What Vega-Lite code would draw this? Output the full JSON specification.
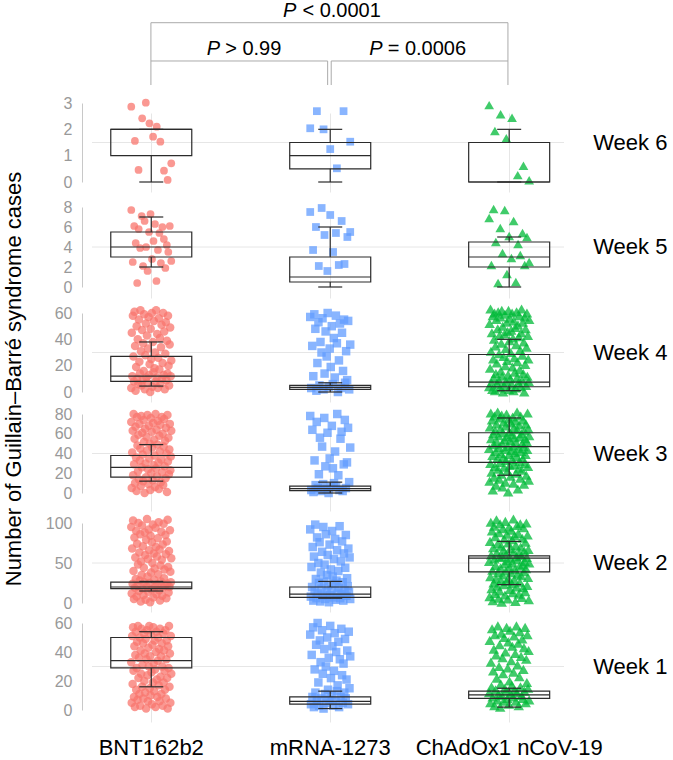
{
  "$schema": "https://vega.github.io/schema/vega-lite/v6.json",
  "padding": {"left": 3, "top": 0, "right": 0, "bottom": 0},
  "background": "white",
  "title": {"text": "Number of Guillain–Barré syndrome cases", "orient": "left", "anchor": "middle", "fontSize": 22, "offset": 19},
  "spacing": 0,
  "bounds": "flush",
  "resolve": {"scale": {"x": "independent", "y": "independent"}},
  "datasets": {
    "boxes": [
      {"week": "Week 6", "vaccine": "BNT162b2", "lower": 0, "q1": 1, "median": 2, "q3": 2, "upper": 2},
      {"week": "Week 6", "vaccine": "mRNA-1273", "lower": 0, "q1": 0.5, "median": 1, "q3": 1.5, "upper": 2},
      {"week": "Week 6", "vaccine": "ChAdOx1 nCoV-19", "lower": 0, "q1": 0, "median": 0, "q3": 1.5, "upper": 2},
      {"week": "Week 5", "vaccine": "BNT162b2", "lower": 2, "q1": 3, "median": 4, "q3": 5.5, "upper": 7},
      {"week": "Week 5", "vaccine": "mRNA-1273", "lower": 0, "q1": 0.5, "median": 1, "q3": 3, "upper": 6},
      {"week": "Week 5", "vaccine": "ChAdOx1 nCoV-19", "lower": 0, "q1": 2, "median": 3, "q3": 4.5, "upper": 5},
      {"week": "Week 4", "vaccine": "BNT162b2", "lower": 4.5, "q1": 8, "median": 12, "q3": 27, "upper": 38},
      {"week": "Week 4", "vaccine": "mRNA-1273", "lower": 0, "q1": 2, "median": 3.5, "q3": 5, "upper": 7},
      {"week": "Week 4", "vaccine": "ChAdOx1 nCoV-19", "lower": 1, "q1": 4, "median": 7.5, "q3": 28.5, "upper": 40},
      {"week": "Week 3", "vaccine": "BNT162b2", "lower": 12, "q1": 16, "median": 26, "q3": 38, "upper": 49},
      {"week": "Week 3", "vaccine": "mRNA-1273", "lower": 0, "q1": 2.5, "median": 4.5, "q3": 7, "upper": 11},
      {"week": "Week 3", "vaccine": "ChAdOx1 nCoV-19", "lower": 18, "q1": 31, "median": 47, "q3": 61, "upper": 76},
      {"week": "Week 2", "vaccine": "BNT162b2", "lower": 15, "q1": 18, "median": 20, "q3": 26, "upper": 27},
      {"week": "Week 2", "vaccine": "mRNA-1273", "lower": 6, "q1": 7, "median": 11, "q3": 20, "upper": 27},
      {"week": "Week 2", "vaccine": "ChAdOx1 nCoV-19", "lower": 23, "q1": 39, "median": 56, "q3": 59, "upper": 77},
      {"week": "Week 1", "vaccine": "BNT162b2", "lower": 16, "q1": 29, "median": 34, "q3": 50, "upper": 54},
      {"week": "Week 1", "vaccine": "mRNA-1273", "lower": 1, "q1": 4, "median": 6, "q3": 9, "upper": 13},
      {"week": "Week 1", "vaccine": "ChAdOx1 nCoV-19", "lower": 2, "q1": 8, "median": 10.5, "q3": 13, "upper": 15}
    ],
    "w6_bnt": [{"cases": 2.86}, {"cases": 1.56}, {"cases": 0.46}, {"cases": 2.42}, {"cases": 3.01}, {"cases": 2.23}, {"cases": 1.72}, {"cases": 2.1}, {"cases": 1.53}, {"cases": 0.43}, {"cases": 0.08}, {"cases": 0.71}],
    "w6_mrna": [{"cases": 2.04}, {"cases": 2.69}, {"cases": 2.0}, {"cases": 1.25}, {"cases": 0.52}, {"cases": 2.69}, {"cases": 1.53}],
    "w6_chad": [{"cases": 2.92}, {"cases": 1.94}, {"cases": 2.57}, {"cases": 1.66}, {"cases": 2.44}, {"cases": 0.26}, {"cases": 0.62}, {"cases": 0.07}],
    "w5_bnt": [{"cases": 7.7}, {"cases": 2.5}, {"cases": 6.1}, {"cases": 4.4}, {"cases": 0.4}, {"cases": 5.8}, {"cases": 3.9}, {"cases": 7.1}, {"cases": 2.1}, {"cases": 6.6}, {"cases": 4.0}, {"cases": 1.6}, {"cases": 5.5}, {"cases": 7.3}, {"cases": 2.8}, {"cases": 4.6}, {"cases": 6.3}, {"cases": 0.6}, {"cases": 3.7}, {"cases": 5.4}, {"cases": 2.4}, {"cases": 6.0}, {"cases": 4.8}, {"cases": 1.9}, {"cases": 4.2}, {"cases": 3.5}, {"cases": 6.1}, {"cases": 2.6}],
    "w5_mrna": [{"cases": 7.5}, {"cases": 3.7}, {"cases": 6.0}, {"cases": 2.1}, {"cases": 7.9}, {"cases": 5.2}, {"cases": 1.6}, {"cases": 7.2}, {"cases": 3.5}, {"cases": 5.4}, {"cases": 2.2}, {"cases": 6.6}, {"cases": 2.3}, {"cases": 5.0}, {"cases": 5.5}],
    "w5_chad": [{"cases": 6.9}, {"cases": 2.2}, {"cases": 7.8}, {"cases": 4.5}, {"cases": 0.4}, {"cases": 5.9}, {"cases": 3.4}, {"cases": 7.7}, {"cases": 1.3}, {"cases": 5.1}, {"cases": 2.9}, {"cases": 6.6}, {"cases": 0.5}, {"cases": 4.3}, {"cases": 3.2}, {"cases": 5.4}, {"cases": 2.2}, {"cases": 5.0}, {"cases": 2.5}],
    "w4_bnt": [{"cases": 3}, {"cases": 45}, {"cases": 12}, {"cases": 58}, {"cases": 27}, {"cases": 8}, {"cases": 61}, {"cases": 35}, {"cases": 1}, {"cases": 19}, {"cases": 50}, {"cases": 10}, {"cases": 40}, {"cases": 6}, {"cases": 55}, {"cases": 23}, {"cases": 14}, {"cases": 62}, {"cases": 31}, {"cases": 5}, {"cases": 47}, {"cases": 9}, {"cases": 37}, {"cases": 16}, {"cases": 59}, {"cases": 2}, {"cases": 28}, {"cases": 52}, {"cases": 11}, {"cases": 43}, {"cases": 7}, {"cases": 33}, {"cases": 57}, {"cases": 13}, {"cases": 21}, {"cases": 0}, {"cases": 48}, {"cases": 25}, {"cases": 60}, {"cases": 4}, {"cases": 38}, {"cases": 15}, {"cases": 54}, {"cases": 18}, {"cases": 30}, {"cases": 8}, {"cases": 62}, {"cases": 11}, {"cases": 44}, {"cases": 3}, {"cases": 26}, {"cases": 56}, {"cases": 17}, {"cases": 41}, {"cases": 6}, {"cases": 34}, {"cases": 51}, {"cases": 10}, {"cases": 22}, {"cases": 60}, {"cases": 13}, {"cases": 46}, {"cases": 2}, {"cases": 29}, {"cases": 53}, {"cases": 9}, {"cases": 39}, {"cases": 14}, {"cases": 58}, {"cases": 20}, {"cases": 5}, {"cases": 36}, {"cases": 49}, {"cases": 12}, {"cases": 24}],
    "w4_mrna": [{"cases": 57}, {"cases": 3}, {"cases": 35}, {"cases": 12}, {"cases": 59}, {"cases": 48}, {"cases": 1}, {"cases": 22}, {"cases": 53}, {"cases": 5}, {"cases": 38}, {"cases": 30}, {"cases": 56}, {"cases": 2}, {"cases": 14}, {"cases": 46}, {"cases": 27}, {"cases": 60}, {"cases": 4}, {"cases": 33}, {"cases": 19}, {"cases": 50}, {"cases": 6}, {"cases": 41}, {"cases": 11}, {"cases": 58}, {"cases": 37}, {"cases": 0}, {"cases": 24}, {"cases": 52}, {"cases": 3}, {"cases": 45}, {"cases": 16}, {"cases": 55}, {"cases": 7}, {"cases": 31}, {"cases": 9}, {"cases": 54}, {"cases": 2}, {"cases": 36}],
    "w4_chad": [{"cases": 4}, {"cases": 52}, {"cases": 18}, {"cases": 63}, {"cases": 31}, {"cases": 7}, {"cases": 45}, {"cases": 2}, {"cases": 58}, {"cases": 25}, {"cases": 11}, {"cases": 40}, {"cases": 60}, {"cases": 1}, {"cases": 35}, {"cases": 14}, {"cases": 55}, {"cases": 22}, {"cases": 6}, {"cases": 48}, {"cases": 61}, {"cases": 9}, {"cases": 29}, {"cases": 43}, {"cases": 3}, {"cases": 57}, {"cases": 16}, {"cases": 37}, {"cases": 62}, {"cases": 12}, {"cases": 50}, {"cases": 0}, {"cases": 27}, {"cases": 5}, {"cases": 44}, {"cases": 59}, {"cases": 20}, {"cases": 33}, {"cases": 8}, {"cases": 53}, {"cases": 24}, {"cases": 46}, {"cases": 13}, {"cases": 62}, {"cases": 2}, {"cases": 39}, {"cases": 56}, {"cases": 10}, {"cases": 30}, {"cases": 47}, {"cases": 6}, {"cases": 60}, {"cases": 19}, {"cases": 41}, {"cases": 1}, {"cases": 54}, {"cases": 26}, {"cases": 15}, {"cases": 49}, {"cases": 3}, {"cases": 36}, {"cases": 61}, {"cases": 11}, {"cases": 23}, {"cases": 51}, {"cases": 7}, {"cases": 42}, {"cases": 58}, {"cases": 17}, {"cases": 32}, {"cases": 4}, {"cases": 45}, {"cases": 63}, {"cases": 9}, {"cases": 28}, {"cases": 53}, {"cases": 14}, {"cases": 38}, {"cases": 0}, {"cases": 57}, {"cases": 21}, {"cases": 48}, {"cases": 5}, {"cases": 34}, {"cases": 60}, {"cases": 12}, {"cases": 43}, {"cases": 25}, {"cases": 8}, {"cases": 55}],
    "w3_bnt": [{"cases": 72}, {"cases": 5}, {"cases": 41}, {"cases": 63}, {"cases": 18}, {"cases": 80}, {"cases": 29}, {"cases": 55}, {"cases": 10}, {"cases": 67}, {"cases": 36}, {"cases": 2}, {"cases": 77}, {"cases": 48}, {"cases": 22}, {"cases": 59}, {"cases": 14}, {"cases": 70}, {"cases": 33}, {"cases": 45}, {"cases": 7}, {"cases": 78}, {"cases": 26}, {"cases": 61}, {"cases": 39}, {"cases": 12}, {"cases": 74}, {"cases": 52}, {"cases": 0}, {"cases": 65}, {"cases": 30}, {"cases": 16}, {"cases": 57}, {"cases": 43}, {"cases": 79}, {"cases": 24}, {"cases": 9}, {"cases": 68}, {"cases": 35}, {"cases": 50}, {"cases": 3}, {"cases": 76}, {"cases": 20}, {"cases": 62}, {"cases": 46}, {"cases": 13}, {"cases": 71}, {"cases": 28}, {"cases": 54}, {"cases": 38}, {"cases": 6}, {"cases": 80}, {"cases": 25}, {"cases": 64}, {"cases": 17}, {"cases": 49}, {"cases": 73}, {"cases": 31}, {"cases": 4}, {"cases": 58}, {"cases": 42}, {"cases": 69}, {"cases": 11}, {"cases": 34}, {"cases": 77}, {"cases": 21}, {"cases": 60}, {"cases": 8}, {"cases": 47}, {"cases": 75}, {"cases": 27}, {"cases": 53}, {"cases": 15}, {"cases": 66}, {"cases": 40}, {"cases": 1}, {"cases": 79}, {"cases": 32}, {"cases": 56}, {"cases": 19}, {"cases": 44}, {"cases": 70}, {"cases": 23}, {"cases": 37}, {"cases": 63}],
    "w3_mrna": [{"cases": 78}, {"cases": 3}, {"cases": 64}, {"cases": 1}, {"cases": 33}, {"cases": 8}, {"cases": 72}, {"cases": 5}, {"cases": 19}, {"cases": 56}, {"cases": 2}, {"cases": 47}, {"cases": 9}, {"cases": 76}, {"cases": 27}, {"cases": 4}, {"cases": 61}, {"cases": 0}, {"cases": 35}, {"cases": 6}, {"cases": 68}, {"cases": 25}, {"cases": 10}, {"cases": 42}, {"cases": 7}, {"cases": 80}, {"cases": 18}, {"cases": 3}, {"cases": 55}, {"cases": 62}, {"cases": 2}, {"cases": 29}, {"cases": 74}, {"cases": 5}, {"cases": 31}, {"cases": 66}, {"cases": 11}, {"cases": 46}],
    "w3_chad": [{"cases": 45}, {"cases": 12}, {"cases": 67}, {"cases": 30}, {"cases": 81}, {"cases": 55}, {"cases": 21}, {"cases": 74}, {"cases": 38}, {"cases": 3}, {"cases": 60}, {"cases": 49}, {"cases": 16}, {"cases": 78}, {"cases": 27}, {"cases": 63}, {"cases": 42}, {"cases": 8}, {"cases": 70}, {"cases": 52}, {"cases": 35}, {"cases": 82}, {"cases": 24}, {"cases": 58}, {"cases": 46}, {"cases": 14}, {"cases": 76}, {"cases": 31}, {"cases": 65}, {"cases": 40}, {"cases": 19}, {"cases": 79}, {"cases": 50}, {"cases": 6}, {"cases": 61}, {"cases": 36}, {"cases": 72}, {"cases": 26}, {"cases": 54}, {"cases": 44}, {"cases": 11}, {"cases": 68}, {"cases": 33}, {"cases": 80}, {"cases": 57}, {"cases": 22}, {"cases": 47}, {"cases": 1}, {"cases": 75}, {"cases": 39}, {"cases": 62}, {"cases": 28}, {"cases": 53}, {"cases": 17}, {"cases": 71}, {"cases": 43}, {"cases": 59}, {"cases": 34}, {"cases": 77}, {"cases": 48}, {"cases": 10}, {"cases": 66}, {"cases": 29}, {"cases": 56}, {"cases": 41}, {"cases": 73}, {"cases": 20}, {"cases": 51}, {"cases": 37}, {"cases": 82}, {"cases": 64}, {"cases": 4}, {"cases": 45}, {"cases": 25}, {"cases": 69}, {"cases": 32}, {"cases": 57}, {"cases": 15}, {"cases": 78}, {"cases": 42}, {"cases": 60}, {"cases": 23}, {"cases": 50}, {"cases": 35}, {"cases": 74}, {"cases": 47}, {"cases": 9}, {"cases": 63}, {"cases": 30}, {"cases": 55}, {"cases": 39}, {"cases": 70}, {"cases": 18}, {"cases": 52}, {"cases": 44}, {"cases": 81}, {"cases": 27}, {"cases": 65}, {"cases": 13}, {"cases": 58}],
    "w2_bnt": [{"cases": 95}, {"cases": 12}, {"cases": 68}, {"cases": 24}, {"cases": 103}, {"cases": 40}, {"cases": 5}, {"cases": 82}, {"cases": 19}, {"cases": 57}, {"cases": 30}, {"cases": 90}, {"cases": 8}, {"cases": 74}, {"cases": 22}, {"cases": 48}, {"cases": 100}, {"cases": 15}, {"cases": 63}, {"cases": 28}, {"cases": 86}, {"cases": 2}, {"cases": 52}, {"cases": 35}, {"cases": 97}, {"cases": 18}, {"cases": 71}, {"cases": 10}, {"cases": 44}, {"cases": 26}, {"cases": 88}, {"cases": 60}, {"cases": 4}, {"cases": 79}, {"cases": 21}, {"cases": 105}, {"cases": 33}, {"cases": 55}, {"cases": 14}, {"cases": 92}, {"cases": 66}, {"cases": 25}, {"cases": 1}, {"cases": 84}, {"cases": 38}, {"cases": 17}, {"cases": 76}, {"cases": 50}, {"cases": 98}, {"cases": 7}, {"cases": 62}, {"cases": 29}, {"cases": 43}, {"cases": 20}, {"cases": 94}, {"cases": 70}, {"cases": 11}, {"cases": 58}, {"cases": 23}, {"cases": 81}, {"cases": 36}, {"cases": 101}, {"cases": 16}, {"cases": 67}, {"cases": 3}, {"cases": 47}, {"cases": 27}, {"cases": 89}, {"cases": 54}, {"cases": 9}, {"cases": 73}, {"cases": 19}, {"cases": 99}, {"cases": 31}, {"cases": 42}, {"cases": 22}, {"cases": 85}, {"cases": 61}, {"cases": 6}, {"cases": 77}, {"cases": 24}, {"cases": 104}, {"cases": 45}, {"cases": 13}, {"cases": 65}, {"cases": 20}, {"cases": 91}, {"cases": 39}, {"cases": 26}, {"cases": 56}],
    "w2_mrna": [{"cases": 92}, {"cases": 8}, {"cases": 45}, {"cases": 20}, {"cases": 70}, {"cases": 3}, {"cases": 58}, {"cases": 15}, {"cases": 98}, {"cases": 30}, {"cases": 6}, {"cases": 82}, {"cases": 12}, {"cases": 50}, {"cases": 25}, {"cases": 76}, {"cases": 2}, {"cases": 38}, {"cases": 18}, {"cases": 64}, {"cases": 9}, {"cases": 95}, {"cases": 27}, {"cases": 48}, {"cases": 5}, {"cases": 86}, {"cases": 14}, {"cases": 35}, {"cases": 60}, {"cases": 22}, {"cases": 1}, {"cases": 73}, {"cases": 10}, {"cases": 42}, {"cases": 17}, {"cases": 90}, {"cases": 33}, {"cases": 7}, {"cases": 55}, {"cases": 24}, {"cases": 80}, {"cases": 4}, {"cases": 28}, {"cases": 66}, {"cases": 13}, {"cases": 40}, {"cases": 19}, {"cases": 96}, {"cases": 6}, {"cases": 52}, {"cases": 11}, {"cases": 77}, {"cases": 26}, {"cases": 3}, {"cases": 62}, {"cases": 16}, {"cases": 44}, {"cases": 85}, {"cases": 9}, {"cases": 31}, {"cases": 21}, {"cases": 68}, {"cases": 14}, {"cases": 57}, {"cases": 5}],
    "w2_chad": [{"cases": 52}, {"cases": 8}, {"cases": 77}, {"cases": 33}, {"cases": 101}, {"cases": 60}, {"cases": 18}, {"cases": 90}, {"cases": 41}, {"cases": 3}, {"cases": 69}, {"cases": 25}, {"cases": 96}, {"cases": 55}, {"cases": 12}, {"cases": 83}, {"cases": 47}, {"cases": 30}, {"cases": 104}, {"cases": 63}, {"cases": 21}, {"cases": 74}, {"cases": 38}, {"cases": 6}, {"cases": 88}, {"cases": 57}, {"cases": 15}, {"cases": 99}, {"cases": 44}, {"cases": 28}, {"cases": 71}, {"cases": 1}, {"cases": 58}, {"cases": 35}, {"cases": 93}, {"cases": 66}, {"cases": 23}, {"cases": 80}, {"cases": 49}, {"cases": 10}, {"cases": 102}, {"cases": 40}, {"cases": 61}, {"cases": 27}, {"cases": 86}, {"cases": 53}, {"cases": 5}, {"cases": 75}, {"cases": 31}, {"cases": 95}, {"cases": 45}, {"cases": 17}, {"cases": 68}, {"cases": 56}, {"cases": 38}, {"cases": 91}, {"cases": 24}, {"cases": 79}, {"cases": 50}, {"cases": 13}, {"cases": 105}, {"cases": 64}, {"cases": 29}, {"cases": 84}, {"cases": 42}, {"cases": 2}, {"cases": 72}, {"cases": 58}, {"cases": 20}, {"cases": 97}, {"cases": 36}, {"cases": 54}, {"cases": 87}, {"cases": 11}, {"cases": 62}, {"cases": 46}, {"cases": 26}, {"cases": 99}, {"cases": 70}, {"cases": 34}, {"cases": 59}, {"cases": 7}, {"cases": 81}, {"cases": 48}, {"cases": 19}, {"cases": 94}, {"cases": 39}, {"cases": 65}, {"cases": 52}, {"cases": 14}, {"cases": 76}, {"cases": 43}, {"cases": 100}, {"cases": 57}, {"cases": 22}, {"cases": 85}, {"cases": 32}, {"cases": 67}, {"cases": 4}, {"cases": 50}],
    "w1_bnt": [{"cases": 33}, {"cases": 5}, {"cases": 51}, {"cases": 18}, {"cases": 57}, {"cases": 27}, {"cases": 9}, {"cases": 44}, {"cases": 2}, {"cases": 38}, {"cases": 54}, {"cases": 14}, {"cases": 29}, {"cases": 47}, {"cases": 7}, {"cases": 58}, {"cases": 22}, {"cases": 36}, {"cases": 11}, {"cases": 50}, {"cases": 3}, {"cases": 41}, {"cases": 25}, {"cases": 56}, {"cases": 16}, {"cases": 31}, {"cases": 46}, {"cases": 8}, {"cases": 53}, {"cases": 20}, {"cases": 39}, {"cases": 12}, {"cases": 49}, {"cases": 1}, {"cases": 35}, {"cases": 55}, {"cases": 24}, {"cases": 6}, {"cases": 43}, {"cases": 30}, {"cases": 58}, {"cases": 15}, {"cases": 37}, {"cases": 10}, {"cases": 52}, {"cases": 26}, {"cases": 4}, {"cases": 45}, {"cases": 19}, {"cases": 57}, {"cases": 32}, {"cases": 13}, {"cases": 48}, {"cases": 28}, {"cases": 2}, {"cases": 40}, {"cases": 54}, {"cases": 21}, {"cases": 9}, {"cases": 34}, {"cases": 50}, {"cases": 17}, {"cases": 42}, {"cases": 6}, {"cases": 56}, {"cases": 23}, {"cases": 37}, {"cases": 11}, {"cases": 46}, {"cases": 30}, {"cases": 3}, {"cases": 53}, {"cases": 19}, {"cases": 41}, {"cases": 27}, {"cases": 14}, {"cases": 55}, {"cases": 8}, {"cases": 35}, {"cases": 48}, {"cases": 22}, {"cases": 1}, {"cases": 44}, {"cases": 29}, {"cases": 58}, {"cases": 16}, {"cases": 39}, {"cases": 5}, {"cases": 51}, {"cases": 25}],
    "w1_mrna": [{"cases": 52}, {"cases": 4}, {"cases": 38}, {"cases": 9}, {"cases": 57}, {"cases": 2}, {"cases": 28}, {"cases": 12}, {"cases": 45}, {"cases": 6}, {"cases": 60}, {"cases": 19}, {"cases": 3}, {"cases": 48}, {"cases": 33}, {"cases": 8}, {"cases": 55}, {"cases": 25}, {"cases": 1}, {"cases": 42}, {"cases": 11}, {"cases": 30}, {"cases": 5}, {"cases": 50}, {"cases": 14}, {"cases": 36}, {"cases": 7}, {"cases": 58}, {"cases": 22}, {"cases": 10}, {"cases": 44}, {"cases": 3}, {"cases": 27}, {"cases": 53}, {"cases": 6}, {"cases": 40}, {"cases": 13}, {"cases": 17}, {"cases": 47}, {"cases": 2}, {"cases": 35}, {"cases": 9}, {"cases": 56}, {"cases": 24}, {"cases": 5}, {"cases": 32}, {"cases": 12}, {"cases": 49}, {"cases": 8}, {"cases": 21}, {"cases": 41}, {"cases": 4}, {"cases": 54}, {"cases": 15}, {"cases": 37}],
    "w1_chad": [{"cases": 12}, {"cases": 48}, {"cases": 5}, {"cases": 33}, {"cases": 16}, {"cases": 56}, {"cases": 9}, {"cases": 27}, {"cases": 42}, {"cases": 3}, {"cases": 52}, {"cases": 14}, {"cases": 38}, {"cases": 22}, {"cases": 7}, {"cases": 58}, {"cases": 11}, {"cases": 30}, {"cases": 45}, {"cases": 2}, {"cases": 18}, {"cases": 53}, {"cases": 10}, {"cases": 36}, {"cases": 25}, {"cases": 6}, {"cases": 50}, {"cases": 15}, {"cases": 40}, {"cases": 13}, {"cases": 57}, {"cases": 8}, {"cases": 29}, {"cases": 47}, {"cases": 4}, {"cases": 20}, {"cases": 55}, {"cases": 11}, {"cases": 34}, {"cases": 17}, {"cases": 44}, {"cases": 9}, {"cases": 26}, {"cases": 51}, {"cases": 14}, {"cases": 39}, {"cases": 6}, {"cases": 58}, {"cases": 12}, {"cases": 31}, {"cases": 46}, {"cases": 3}, {"cases": 23}, {"cases": 54}, {"cases": 16}, {"cases": 37}, {"cases": 10}, {"cases": 49}, {"cases": 8}, {"cases": 28}, {"cases": 43}, {"cases": 13}, {"cases": 57}, {"cases": 5}, {"cases": 35}, {"cases": 19}, {"cases": 52}, {"cases": 15}, {"cases": 41}, {"cases": 7}]
  },
  "vconcat": [
    {
      "width": 472,
      "height": 95,
      "data": {"values": [{}]},
      "layer": [
        {"mark": {"type": "rule", "color": "#aaaaaa", "strokeWidth": 1}, "encoding": {"x": {"datum": 0, "type": "quantitative", "scale": {"domain": [-0.33, 2.314], "nice": false, "zero": false}, "axis": null}, "x2": {"datum": 2}, "y": {"datum": 0.761, "type": "quantitative", "scale": {"domain": [0, 1], "nice": false, "zero": false}, "axis": null}}},
        {"mark": {"type": "rule", "color": "#aaaaaa", "strokeWidth": 1}, "encoding": {"x": {"datum": 0, "type": "quantitative", "scale": {"domain": [-0.33, 2.314], "nice": false, "zero": false}, "axis": null}, "y": {"datum": 0.761, "type": "quantitative", "scale": {"domain": [0, 1], "nice": false, "zero": false}, "axis": null}, "y2": {"datum": 0.105}}},
        {"mark": {"type": "rule", "color": "#aaaaaa", "strokeWidth": 1}, "encoding": {"x": {"datum": 2, "type": "quantitative", "scale": {"domain": [-0.33, 2.314], "nice": false, "zero": false}, "axis": null}, "y": {"datum": 0.761, "type": "quantitative", "scale": {"domain": [0, 1], "nice": false, "zero": false}, "axis": null}, "y2": {"datum": 0.105}}},
        {"mark": {"type": "rule", "color": "#aaaaaa", "strokeWidth": 1}, "encoding": {"x": {"datum": 0, "type": "quantitative", "scale": {"domain": [-0.33, 2.314], "nice": false, "zero": false}, "axis": null}, "x2": {"datum": 0.99}, "y": {"datum": 0.358, "type": "quantitative", "scale": {"domain": [0, 1], "nice": false, "zero": false}, "axis": null}}},
        {"mark": {"type": "rule", "color": "#aaaaaa", "strokeWidth": 1}, "encoding": {"x": {"datum": 1.01, "type": "quantitative", "scale": {"domain": [-0.33, 2.314], "nice": false, "zero": false}, "axis": null}, "x2": {"datum": 2}, "y": {"datum": 0.358, "type": "quantitative", "scale": {"domain": [0, 1], "nice": false, "zero": false}, "axis": null}}},
        {"mark": {"type": "rule", "color": "#aaaaaa", "strokeWidth": 1}, "encoding": {"x": {"datum": 0.99, "type": "quantitative", "scale": {"domain": [-0.33, 2.314], "nice": false, "zero": false}, "axis": null}, "y": {"datum": 0.358, "type": "quantitative", "scale": {"domain": [0, 1], "nice": false, "zero": false}, "axis": null}, "y2": {"datum": 0.105}}},
        {"mark": {"type": "rule", "color": "#aaaaaa", "strokeWidth": 1}, "encoding": {"x": {"datum": 1.01, "type": "quantitative", "scale": {"domain": [-0.33, 2.314], "nice": false, "zero": false}, "axis": null}, "y": {"datum": 0.358, "type": "quantitative", "scale": {"domain": [0, 1], "nice": false, "zero": false}, "axis": null}, "y2": {"datum": 0.105}}},
        {"mark": {"type": "text", "text": "P", "fontStyle": "italic", "fontSize": 20, "align": "right", "baseline": "alphabetic", "dx": -33, "color": "#000"}, "encoding": {"x": {"datum": 1, "type": "quantitative", "scale": {"domain": [-0.33, 2.314], "nice": false, "zero": false}, "axis": null}, "y": {"datum": 0.821, "type": "quantitative", "scale": {"domain": [0, 1], "nice": false, "zero": false}, "axis": null}}},
        {"mark": {"type": "text", "text": "< 0.0001", "fontSize": 20, "align": "left", "baseline": "alphabetic", "dx": -27, "color": "#000"}, "encoding": {"x": {"datum": 1, "type": "quantitative", "scale": {"domain": [-0.33, 2.314], "nice": false, "zero": false}, "axis": null}, "y": {"datum": 0.821, "type": "quantitative", "scale": {"domain": [0, 1], "nice": false, "zero": false}, "axis": null}}},
        {"mark": {"type": "text", "text": "P", "fontStyle": "italic", "fontSize": 20, "align": "right", "baseline": "alphabetic", "dx": -20, "color": "#000"}, "encoding": {"x": {"datum": 0.5, "type": "quantitative", "scale": {"domain": [-0.33, 2.314], "nice": false, "zero": false}, "axis": null}, "y": {"datum": 0.421, "type": "quantitative", "scale": {"domain": [0, 1], "nice": false, "zero": false}, "axis": null}}},
        {"mark": {"type": "text", "text": "> 0.99", "fontSize": 20, "align": "left", "baseline": "alphabetic", "dx": -15, "color": "#000"}, "encoding": {"x": {"datum": 0.5, "type": "quantitative", "scale": {"domain": [-0.33, 2.314], "nice": false, "zero": false}, "axis": null}, "y": {"datum": 0.421, "type": "quantitative", "scale": {"domain": [0, 1], "nice": false, "zero": false}, "axis": null}}},
        {"mark": {"type": "text", "text": "P", "fontStyle": "italic", "fontSize": 20, "align": "right", "baseline": "alphabetic", "dx": -36, "color": "#000"}, "encoding": {"x": {"datum": 1.5, "type": "quantitative", "scale": {"domain": [-0.33, 2.314], "nice": false, "zero": false}, "axis": null}, "y": {"datum": 0.421, "type": "quantitative", "scale": {"domain": [0, 1], "nice": false, "zero": false}, "axis": null}}},
        {"mark": {"type": "text", "text": "= 0.0006", "fontSize": 20, "align": "left", "baseline": "alphabetic", "dx": -31, "color": "#000"}, "encoding": {"x": {"datum": 1.5, "type": "quantitative", "scale": {"domain": [-0.33, 2.314], "nice": false, "zero": false}, "axis": null}, "y": {"datum": 0.421, "type": "quantitative", "scale": {"domain": [0, 1], "nice": false, "zero": false}, "axis": null}}}
      ]
    },
    {
      "width": 472,
      "height": 105,
      "resolve": {"scale": {"xOffset": "independent"}},
      "layer": [
        {"data": {"values": [{}]}, "mark": {"type": "rule", "color": "#e6e6e6", "strokeWidth": 1}, "encoding": {"y": {"datum": 1.5, "type": "quantitative", "title": null}}},
        {"data": {"name": "w6_bnt"}, "transform": [{"window": [{"op": "row_number", "as": "id"}]}], "mark": {"type": "point", "shape": "circle", "filled": true, "size": 60, "opacity": 0.75, "color": "#F8766D", "strokeWidth": 0}, "encoding": {"x": {"datum": "BNT162b2", "type": "nominal", "scale": {"domain": ["BNT162b2", "mRNA-1273", "ChAdOx1 nCoV-19"], "paddingInner": 0.7765, "paddingOuter": 0.207, "align": 0.53}, "axis": {"labels": false, "title": null, "grid": true}}, "xOffset": {"field": "id", "type": "nominal", "scale": {"paddingInner": 0, "paddingOuter": 0}}, "y": {"field": "cases", "type": "quantitative", "title": null, "scale": {"domain": [0, 3], "range": [87, 8], "nice": false, "zero": false}, "axis": {"values": [0, 1, 2, 3], "tickCount": 12, "format": "d", "title": null, "labelOverlap": false}}}},
        {"data": {"name": "w6_mrna"}, "transform": [{"window": [{"op": "row_number", "as": "id"}]}], "mark": {"type": "point", "shape": "square", "filled": true, "size": 60, "opacity": 0.75, "color": "#619CFF", "strokeWidth": 0}, "encoding": {"x": {"datum": "mRNA-1273", "type": "nominal", "scale": {"domain": ["BNT162b2", "mRNA-1273", "ChAdOx1 nCoV-19"], "paddingInner": 0.7765, "paddingOuter": 0.207, "align": 0.53}, "axis": {"labels": false, "title": null, "grid": true}}, "xOffset": {"field": "id", "type": "nominal", "scale": {"paddingInner": 0, "paddingOuter": 0}}, "y": {"field": "cases", "type": "quantitative", "title": null}}},
        {"data": {"name": "w6_chad"}, "transform": [{"window": [{"op": "row_number", "as": "id"}]}], "mark": {"type": "point", "shape": "triangle-up", "filled": true, "size": 95, "opacity": 0.75, "color": "#00BA38", "strokeWidth": 0}, "encoding": {"x": {"datum": "ChAdOx1 nCoV-19", "type": "nominal", "scale": {"domain": ["BNT162b2", "mRNA-1273", "ChAdOx1 nCoV-19"], "paddingInner": 0.7765, "paddingOuter": 0.207, "align": 0.53}, "axis": {"labels": false, "title": null, "grid": true}}, "xOffset": {"field": "id", "type": "nominal", "scale": {"paddingInner": 0, "paddingOuter": 0}}, "y": {"field": "cases", "type": "quantitative", "title": null}}},
        {
          "data": {"name": "boxes"},
          "transform": [{"filter": {"field": "week", "equal": "Week 6"}}],
          "encoding": {"x": {"field": "vaccine", "type": "nominal", "scale": {"domain": ["BNT162b2", "mRNA-1273", "ChAdOx1 nCoV-19"], "paddingInner": 0.7765, "paddingOuter": 0.207, "align": 0.53}, "axis": {"labels": false, "title": null, "grid": true}}},
          "layer": [
            {"mark": {"type": "bar", "width": 81, "fill": "transparent", "stroke": "#2b2b2b", "strokeWidth": 1.2}, "encoding": {"y": {"field": "q1", "type": "quantitative", "title": null}, "y2": {"field": "q3"}}},
            {"mark": {"type": "rule", "color": "#2b2b2b", "strokeWidth": 1.2}, "encoding": {"y": {"field": "lower", "type": "quantitative", "title": null}, "y2": {"field": "q1"}}},
            {"mark": {"type": "rule", "color": "#2b2b2b", "strokeWidth": 1.2}, "encoding": {"y": {"field": "q3", "type": "quantitative", "title": null}, "y2": {"field": "upper"}}},
            {"mark": {"type": "tick", "orient": "horizontal", "size": 24, "thickness": 1.2, "color": "#2b2b2b", "opacity": 1}, "encoding": {"y": {"field": "lower", "type": "quantitative", "title": null}}},
            {"mark": {"type": "tick", "orient": "horizontal", "size": 24, "thickness": 1.2, "color": "#2b2b2b", "opacity": 1}, "encoding": {"y": {"field": "upper", "type": "quantitative", "title": null}}},
            {"mark": {"type": "tick", "orient": "horizontal", "size": 81, "thickness": 1.2, "color": "#2b2b2b", "opacity": 1}, "encoding": {"y": {"field": "median", "type": "quantitative", "title": null}}}
          ]
        },
        {"data": {"values": [{}]}, "mark": {"type": "text", "text": "Week 6", "align": "left", "baseline": "middle", "dx": 84, "fontSize": 22, "color": "#000"}, "encoding": {"x": {"datum": "ChAdOx1 nCoV-19", "type": "nominal", "scale": {"domain": ["BNT162b2", "mRNA-1273", "ChAdOx1 nCoV-19"], "paddingInner": 0.7765, "paddingOuter": 0.207, "align": 0.53}, "axis": {"labels": false, "title": null, "grid": true}}, "y": {"datum": 1.5, "type": "quantitative", "title": null}}}
      ]
    },
    {
      "width": 472,
      "height": 105,
      "resolve": {"scale": {"xOffset": "independent"}},
      "layer": [
        {"data": {"values": [{}]}, "mark": {"type": "rule", "color": "#e6e6e6", "strokeWidth": 1}, "encoding": {"y": {"datum": 4, "type": "quantitative", "title": null}}},
        {"data": {"name": "w5_bnt"}, "transform": [{"window": [{"op": "row_number", "as": "id"}]}], "mark": {"type": "point", "shape": "circle", "filled": true, "size": 60, "opacity": 0.75, "color": "#F8766D", "strokeWidth": 0}, "encoding": {"x": {"datum": "BNT162b2", "type": "nominal", "scale": {"domain": ["BNT162b2", "mRNA-1273", "ChAdOx1 nCoV-19"], "paddingInner": 0.7765, "paddingOuter": 0.207, "align": 0.53}, "axis": {"labels": false, "title": null, "grid": true}}, "xOffset": {"field": "id", "type": "nominal", "scale": {"paddingInner": 0, "paddingOuter": 0}}, "y": {"field": "cases", "type": "quantitative", "title": null, "scale": {"domain": [0, 8], "range": [87, 7], "nice": false, "zero": false}, "axis": {"values": [0, 2, 4, 6, 8], "tickCount": 12, "format": "d", "title": null, "labelOverlap": false}}}},
        {"data": {"name": "w5_mrna"}, "transform": [{"window": [{"op": "row_number", "as": "id"}]}], "mark": {"type": "point", "shape": "square", "filled": true, "size": 60, "opacity": 0.75, "color": "#619CFF", "strokeWidth": 0}, "encoding": {"x": {"datum": "mRNA-1273", "type": "nominal", "scale": {"domain": ["BNT162b2", "mRNA-1273", "ChAdOx1 nCoV-19"], "paddingInner": 0.7765, "paddingOuter": 0.207, "align": 0.53}, "axis": {"labels": false, "title": null, "grid": true}}, "xOffset": {"field": "id", "type": "nominal", "scale": {"paddingInner": 0, "paddingOuter": 0}}, "y": {"field": "cases", "type": "quantitative", "title": null}}},
        {"data": {"name": "w5_chad"}, "transform": [{"window": [{"op": "row_number", "as": "id"}]}], "mark": {"type": "point", "shape": "triangle-up", "filled": true, "size": 95, "opacity": 0.75, "color": "#00BA38", "strokeWidth": 0}, "encoding": {"x": {"datum": "ChAdOx1 nCoV-19", "type": "nominal", "scale": {"domain": ["BNT162b2", "mRNA-1273", "ChAdOx1 nCoV-19"], "paddingInner": 0.7765, "paddingOuter": 0.207, "align": 0.53}, "axis": {"labels": false, "title": null, "grid": true}}, "xOffset": {"field": "id", "type": "nominal", "scale": {"paddingInner": 0, "paddingOuter": 0}}, "y": {"field": "cases", "type": "quantitative", "title": null}}},
        {
          "data": {"name": "boxes"},
          "transform": [{"filter": {"field": "week", "equal": "Week 5"}}],
          "encoding": {"x": {"field": "vaccine", "type": "nominal", "scale": {"domain": ["BNT162b2", "mRNA-1273", "ChAdOx1 nCoV-19"], "paddingInner": 0.7765, "paddingOuter": 0.207, "align": 0.53}, "axis": {"labels": false, "title": null, "grid": true}}},
          "layer": [
            {"mark": {"type": "bar", "width": 81, "fill": "transparent", "stroke": "#2b2b2b", "strokeWidth": 1.2}, "encoding": {"y": {"field": "q1", "type": "quantitative", "title": null}, "y2": {"field": "q3"}}},
            {"mark": {"type": "rule", "color": "#2b2b2b", "strokeWidth": 1.2}, "encoding": {"y": {"field": "lower", "type": "quantitative", "title": null}, "y2": {"field": "q1"}}},
            {"mark": {"type": "rule", "color": "#2b2b2b", "strokeWidth": 1.2}, "encoding": {"y": {"field": "q3", "type": "quantitative", "title": null}, "y2": {"field": "upper"}}},
            {"mark": {"type": "tick", "orient": "horizontal", "size": 24, "thickness": 1.2, "color": "#2b2b2b", "opacity": 1}, "encoding": {"y": {"field": "lower", "type": "quantitative", "title": null}}},
            {"mark": {"type": "tick", "orient": "horizontal", "size": 24, "thickness": 1.2, "color": "#2b2b2b", "opacity": 1}, "encoding": {"y": {"field": "upper", "type": "quantitative", "title": null}}},
            {"mark": {"type": "tick", "orient": "horizontal", "size": 81, "thickness": 1.2, "color": "#2b2b2b", "opacity": 1}, "encoding": {"y": {"field": "median", "type": "quantitative", "title": null}}}
          ]
        },
        {"data": {"values": [{}]}, "mark": {"type": "text", "text": "Week 5", "align": "left", "baseline": "middle", "dx": 84, "fontSize": 22, "color": "#000"}, "encoding": {"x": {"datum": "ChAdOx1 nCoV-19", "type": "nominal", "scale": {"domain": ["BNT162b2", "mRNA-1273", "ChAdOx1 nCoV-19"], "paddingInner": 0.7765, "paddingOuter": 0.207, "align": 0.53}, "axis": {"labels": false, "title": null, "grid": true}}, "y": {"datum": 4, "type": "quantitative", "title": null}}}
      ]
    },
    {
      "width": 472,
      "height": 105,
      "resolve": {"scale": {"xOffset": "independent"}},
      "layer": [
        {"data": {"values": [{}]}, "mark": {"type": "rule", "color": "#e6e6e6", "strokeWidth": 1}, "encoding": {"y": {"datum": 30, "type": "quantitative", "title": null}}},
        {"data": {"name": "w4_bnt"}, "transform": [{"window": [{"op": "row_number", "as": "id"}]}], "mark": {"type": "point", "shape": "circle", "filled": true, "size": 72, "opacity": 0.75, "color": "#F8766D", "strokeWidth": 0}, "encoding": {"x": {"datum": "BNT162b2", "type": "nominal", "scale": {"domain": ["BNT162b2", "mRNA-1273", "ChAdOx1 nCoV-19"], "paddingInner": 0.7765, "paddingOuter": 0.207, "align": 0.53}, "axis": {"labels": false, "title": null, "grid": true}}, "xOffset": {"field": "id", "type": "nominal", "scale": {"paddingInner": 0, "paddingOuter": 0}}, "y": {"field": "cases", "type": "quantitative", "title": null, "scale": {"domain": [0, 60], "range": [87, 8], "nice": false, "zero": false}, "axis": {"values": [0, 20, 40, 60], "tickCount": 12, "format": "d", "title": null, "labelOverlap": false}}}},
        {"data": {"name": "w4_mrna"}, "transform": [{"window": [{"op": "row_number", "as": "id"}]}], "mark": {"type": "point", "shape": "square", "filled": true, "size": 72, "opacity": 0.75, "color": "#619CFF", "strokeWidth": 0}, "encoding": {"x": {"datum": "mRNA-1273", "type": "nominal", "scale": {"domain": ["BNT162b2", "mRNA-1273", "ChAdOx1 nCoV-19"], "paddingInner": 0.7765, "paddingOuter": 0.207, "align": 0.53}, "axis": {"labels": false, "title": null, "grid": true}}, "xOffset": {"field": "id", "type": "nominal", "scale": {"paddingInner": 0, "paddingOuter": 0}}, "y": {"field": "cases", "type": "quantitative", "title": null}}},
        {"data": {"name": "w4_chad"}, "transform": [{"window": [{"op": "row_number", "as": "id"}]}], "mark": {"type": "point", "shape": "triangle-up", "filled": true, "size": 110, "opacity": 0.75, "color": "#00BA38", "strokeWidth": 0}, "encoding": {"x": {"datum": "ChAdOx1 nCoV-19", "type": "nominal", "scale": {"domain": ["BNT162b2", "mRNA-1273", "ChAdOx1 nCoV-19"], "paddingInner": 0.7765, "paddingOuter": 0.207, "align": 0.53}, "axis": {"labels": false, "title": null, "grid": true}}, "xOffset": {"field": "id", "type": "nominal", "scale": {"paddingInner": 0, "paddingOuter": 0}}, "y": {"field": "cases", "type": "quantitative", "title": null}}},
        {
          "data": {"name": "boxes"},
          "transform": [{"filter": {"field": "week", "equal": "Week 4"}}],
          "encoding": {"x": {"field": "vaccine", "type": "nominal", "scale": {"domain": ["BNT162b2", "mRNA-1273", "ChAdOx1 nCoV-19"], "paddingInner": 0.7765, "paddingOuter": 0.207, "align": 0.53}, "axis": {"labels": false, "title": null, "grid": true}}},
          "layer": [
            {"mark": {"type": "bar", "width": 81, "fill": "transparent", "stroke": "#2b2b2b", "strokeWidth": 1.2}, "encoding": {"y": {"field": "q1", "type": "quantitative", "title": null}, "y2": {"field": "q3"}}},
            {"mark": {"type": "rule", "color": "#2b2b2b", "strokeWidth": 1.2}, "encoding": {"y": {"field": "lower", "type": "quantitative", "title": null}, "y2": {"field": "q1"}}},
            {"mark": {"type": "rule", "color": "#2b2b2b", "strokeWidth": 1.2}, "encoding": {"y": {"field": "q3", "type": "quantitative", "title": null}, "y2": {"field": "upper"}}},
            {"mark": {"type": "tick", "orient": "horizontal", "size": 24, "thickness": 1.2, "color": "#2b2b2b", "opacity": 1}, "encoding": {"y": {"field": "lower", "type": "quantitative", "title": null}}},
            {"mark": {"type": "tick", "orient": "horizontal", "size": 24, "thickness": 1.2, "color": "#2b2b2b", "opacity": 1}, "encoding": {"y": {"field": "upper", "type": "quantitative", "title": null}}},
            {"mark": {"type": "tick", "orient": "horizontal", "size": 81, "thickness": 1.2, "color": "#2b2b2b", "opacity": 1}, "encoding": {"y": {"field": "median", "type": "quantitative", "title": null}}}
          ]
        },
        {"data": {"values": [{}]}, "mark": {"type": "text", "text": "Week 4", "align": "left", "baseline": "middle", "dx": 84, "fontSize": 22, "color": "#000"}, "encoding": {"x": {"datum": "ChAdOx1 nCoV-19", "type": "nominal", "scale": {"domain": ["BNT162b2", "mRNA-1273", "ChAdOx1 nCoV-19"], "paddingInner": 0.7765, "paddingOuter": 0.207, "align": 0.53}, "axis": {"labels": false, "title": null, "grid": true}}, "y": {"datum": 30, "type": "quantitative", "title": null}}}
      ]
    },
    {
      "width": 472,
      "height": 105,
      "resolve": {"scale": {"xOffset": "independent"}},
      "layer": [
        {"data": {"values": [{}]}, "mark": {"type": "rule", "color": "#e6e6e6", "strokeWidth": 1}, "encoding": {"y": {"datum": 40, "type": "quantitative", "title": null}}},
        {"data": {"name": "w3_bnt"}, "transform": [{"window": [{"op": "row_number", "as": "id"}]}], "mark": {"type": "point", "shape": "circle", "filled": true, "size": 72, "opacity": 0.75, "color": "#F8766D", "strokeWidth": 0}, "encoding": {"x": {"datum": "BNT162b2", "type": "nominal", "scale": {"domain": ["BNT162b2", "mRNA-1273", "ChAdOx1 nCoV-19"], "paddingInner": 0.7765, "paddingOuter": 0.207, "align": 0.53}, "axis": {"labels": false, "title": null, "grid": true}}, "xOffset": {"field": "id", "type": "nominal", "scale": {"paddingInner": 0, "paddingOuter": 0}}, "y": {"field": "cases", "type": "quantitative", "title": null, "scale": {"domain": [0, 80], "range": [83, 4], "nice": false, "zero": false}, "axis": {"values": [0, 20, 40, 60, 80], "tickCount": 12, "format": "d", "title": null, "labelOverlap": false}}}},
        {"data": {"name": "w3_mrna"}, "transform": [{"window": [{"op": "row_number", "as": "id"}]}], "mark": {"type": "point", "shape": "square", "filled": true, "size": 72, "opacity": 0.75, "color": "#619CFF", "strokeWidth": 0}, "encoding": {"x": {"datum": "mRNA-1273", "type": "nominal", "scale": {"domain": ["BNT162b2", "mRNA-1273", "ChAdOx1 nCoV-19"], "paddingInner": 0.7765, "paddingOuter": 0.207, "align": 0.53}, "axis": {"labels": false, "title": null, "grid": true}}, "xOffset": {"field": "id", "type": "nominal", "scale": {"paddingInner": 0, "paddingOuter": 0}}, "y": {"field": "cases", "type": "quantitative", "title": null}}},
        {"data": {"name": "w3_chad"}, "transform": [{"window": [{"op": "row_number", "as": "id"}]}], "mark": {"type": "point", "shape": "triangle-up", "filled": true, "size": 110, "opacity": 0.75, "color": "#00BA38", "strokeWidth": 0}, "encoding": {"x": {"datum": "ChAdOx1 nCoV-19", "type": "nominal", "scale": {"domain": ["BNT162b2", "mRNA-1273", "ChAdOx1 nCoV-19"], "paddingInner": 0.7765, "paddingOuter": 0.207, "align": 0.53}, "axis": {"labels": false, "title": null, "grid": true}}, "xOffset": {"field": "id", "type": "nominal", "scale": {"paddingInner": 0, "paddingOuter": 0}}, "y": {"field": "cases", "type": "quantitative", "title": null}}},
        {
          "data": {"name": "boxes"},
          "transform": [{"filter": {"field": "week", "equal": "Week 3"}}],
          "encoding": {"x": {"field": "vaccine", "type": "nominal", "scale": {"domain": ["BNT162b2", "mRNA-1273", "ChAdOx1 nCoV-19"], "paddingInner": 0.7765, "paddingOuter": 0.207, "align": 0.53}, "axis": {"labels": false, "title": null, "grid": true}}},
          "layer": [
            {"mark": {"type": "bar", "width": 81, "fill": "transparent", "stroke": "#2b2b2b", "strokeWidth": 1.2}, "encoding": {"y": {"field": "q1", "type": "quantitative", "title": null}, "y2": {"field": "q3"}}},
            {"mark": {"type": "rule", "color": "#2b2b2b", "strokeWidth": 1.2}, "encoding": {"y": {"field": "lower", "type": "quantitative", "title": null}, "y2": {"field": "q1"}}},
            {"mark": {"type": "rule", "color": "#2b2b2b", "strokeWidth": 1.2}, "encoding": {"y": {"field": "q3", "type": "quantitative", "title": null}, "y2": {"field": "upper"}}},
            {"mark": {"type": "tick", "orient": "horizontal", "size": 24, "thickness": 1.2, "color": "#2b2b2b", "opacity": 1}, "encoding": {"y": {"field": "lower", "type": "quantitative", "title": null}}},
            {"mark": {"type": "tick", "orient": "horizontal", "size": 24, "thickness": 1.2, "color": "#2b2b2b", "opacity": 1}, "encoding": {"y": {"field": "upper", "type": "quantitative", "title": null}}},
            {"mark": {"type": "tick", "orient": "horizontal", "size": 81, "thickness": 1.2, "color": "#2b2b2b", "opacity": 1}, "encoding": {"y": {"field": "median", "type": "quantitative", "title": null}}}
          ]
        },
        {"data": {"values": [{}]}, "mark": {"type": "text", "text": "Week 3", "align": "left", "baseline": "middle", "dx": 84, "fontSize": 22, "color": "#000"}, "encoding": {"x": {"datum": "ChAdOx1 nCoV-19", "type": "nominal", "scale": {"domain": ["BNT162b2", "mRNA-1273", "ChAdOx1 nCoV-19"], "paddingInner": 0.7765, "paddingOuter": 0.207, "align": 0.53}, "axis": {"labels": false, "title": null, "grid": true}}, "y": {"datum": 40, "type": "quantitative", "title": null}}}
      ]
    },
    {
      "width": 472,
      "height": 105,
      "resolve": {"scale": {"xOffset": "independent"}},
      "layer": [
        {"data": {"values": [{}]}, "mark": {"type": "rule", "color": "#e6e6e6", "strokeWidth": 1}, "encoding": {"y": {"datum": 50, "type": "quantitative", "title": null}}},
        {"data": {"name": "w2_bnt"}, "transform": [{"window": [{"op": "row_number", "as": "id"}]}], "mark": {"type": "point", "shape": "circle", "filled": true, "size": 72, "opacity": 0.75, "color": "#F8766D", "strokeWidth": 0}, "encoding": {"x": {"datum": "BNT162b2", "type": "nominal", "scale": {"domain": ["BNT162b2", "mRNA-1273", "ChAdOx1 nCoV-19"], "paddingInner": 0.7765, "paddingOuter": 0.207, "align": 0.53}, "axis": {"labels": false, "title": null, "grid": true}}, "xOffset": {"field": "id", "type": "nominal", "scale": {"paddingInner": 0, "paddingOuter": 0}}, "y": {"field": "cases", "type": "quantitative", "title": null, "scale": {"domain": [0, 100], "range": [88, 8], "nice": false, "zero": false}, "axis": {"values": [0, 50, 100], "tickCount": 12, "format": "d", "title": null, "labelOverlap": false}}}},
        {"data": {"name": "w2_mrna"}, "transform": [{"window": [{"op": "row_number", "as": "id"}]}], "mark": {"type": "point", "shape": "square", "filled": true, "size": 72, "opacity": 0.75, "color": "#619CFF", "strokeWidth": 0}, "encoding": {"x": {"datum": "mRNA-1273", "type": "nominal", "scale": {"domain": ["BNT162b2", "mRNA-1273", "ChAdOx1 nCoV-19"], "paddingInner": 0.7765, "paddingOuter": 0.207, "align": 0.53}, "axis": {"labels": false, "title": null, "grid": true}}, "xOffset": {"field": "id", "type": "nominal", "scale": {"paddingInner": 0, "paddingOuter": 0}}, "y": {"field": "cases", "type": "quantitative", "title": null}}},
        {"data": {"name": "w2_chad"}, "transform": [{"window": [{"op": "row_number", "as": "id"}]}], "mark": {"type": "point", "shape": "triangle-up", "filled": true, "size": 110, "opacity": 0.75, "color": "#00BA38", "strokeWidth": 0}, "encoding": {"x": {"datum": "ChAdOx1 nCoV-19", "type": "nominal", "scale": {"domain": ["BNT162b2", "mRNA-1273", "ChAdOx1 nCoV-19"], "paddingInner": 0.7765, "paddingOuter": 0.207, "align": 0.53}, "axis": {"labels": false, "title": null, "grid": true}}, "xOffset": {"field": "id", "type": "nominal", "scale": {"paddingInner": 0, "paddingOuter": 0}}, "y": {"field": "cases", "type": "quantitative", "title": null}}},
        {
          "data": {"name": "boxes"},
          "transform": [{"filter": {"field": "week", "equal": "Week 2"}}],
          "encoding": {"x": {"field": "vaccine", "type": "nominal", "scale": {"domain": ["BNT162b2", "mRNA-1273", "ChAdOx1 nCoV-19"], "paddingInner": 0.7765, "paddingOuter": 0.207, "align": 0.53}, "axis": {"labels": false, "title": null, "grid": true}}},
          "layer": [
            {"mark": {"type": "bar", "width": 81, "fill": "transparent", "stroke": "#2b2b2b", "strokeWidth": 1.2}, "encoding": {"y": {"field": "q1", "type": "quantitative", "title": null}, "y2": {"field": "q3"}}},
            {"mark": {"type": "rule", "color": "#2b2b2b", "strokeWidth": 1.2}, "encoding": {"y": {"field": "lower", "type": "quantitative", "title": null}, "y2": {"field": "q1"}}},
            {"mark": {"type": "rule", "color": "#2b2b2b", "strokeWidth": 1.2}, "encoding": {"y": {"field": "q3", "type": "quantitative", "title": null}, "y2": {"field": "upper"}}},
            {"mark": {"type": "tick", "orient": "horizontal", "size": 24, "thickness": 1.2, "color": "#2b2b2b", "opacity": 1}, "encoding": {"y": {"field": "lower", "type": "quantitative", "title": null}}},
            {"mark": {"type": "tick", "orient": "horizontal", "size": 24, "thickness": 1.2, "color": "#2b2b2b", "opacity": 1}, "encoding": {"y": {"field": "upper", "type": "quantitative", "title": null}}},
            {"mark": {"type": "tick", "orient": "horizontal", "size": 81, "thickness": 1.2, "color": "#2b2b2b", "opacity": 1}, "encoding": {"y": {"field": "median", "type": "quantitative", "title": null}}}
          ]
        },
        {"data": {"values": [{}]}, "mark": {"type": "text", "text": "Week 2", "align": "left", "baseline": "middle", "dx": 84, "fontSize": 22, "color": "#000"}, "encoding": {"x": {"datum": "ChAdOx1 nCoV-19", "type": "nominal", "scale": {"domain": ["BNT162b2", "mRNA-1273", "ChAdOx1 nCoV-19"], "paddingInner": 0.7765, "paddingOuter": 0.207, "align": 0.53}, "axis": {"labels": false, "title": null, "grid": true}}, "y": {"datum": 50, "type": "quantitative", "title": null}}}
      ]
    },
    {
      "width": 472,
      "height": 105,
      "resolve": {"scale": {"xOffset": "independent"}},
      "layer": [
        {"data": {"values": [{}]}, "mark": {"type": "rule", "color": "#e6e6e6", "strokeWidth": 1}, "encoding": {"y": {"datum": 30, "type": "quantitative", "title": null}}},
        {"data": {"name": "w1_bnt"}, "transform": [{"window": [{"op": "row_number", "as": "id"}]}], "mark": {"type": "point", "shape": "circle", "filled": true, "size": 72, "opacity": 0.75, "color": "#F8766D", "strokeWidth": 0}, "encoding": {"x": {"datum": "BNT162b2", "type": "nominal", "scale": {"domain": ["BNT162b2", "mRNA-1273", "ChAdOx1 nCoV-19"], "paddingInner": 0.7765, "paddingOuter": 0.207, "align": 0.53}, "axis": {"labels": true, "title": null, "grid": true, "labelFontSize": 22, "labelColor": "#000", "labelPadding": 12, "labelAngle": 0, "labelLimit": 300}}, "xOffset": {"field": "id", "type": "nominal", "scale": {"paddingInner": 0, "paddingOuter": 0}}, "y": {"field": "cases", "type": "quantitative", "title": null, "scale": {"domain": [0, 60], "range": [90, 3], "nice": false, "zero": false}, "axis": {"values": [0, 20, 40, 60], "tickCount": 12, "format": "d", "title": null, "labelOverlap": false}}}},
        {"data": {"name": "w1_mrna"}, "transform": [{"window": [{"op": "row_number", "as": "id"}]}], "mark": {"type": "point", "shape": "square", "filled": true, "size": 72, "opacity": 0.75, "color": "#619CFF", "strokeWidth": 0}, "encoding": {"x": {"datum": "mRNA-1273", "type": "nominal", "scale": {"domain": ["BNT162b2", "mRNA-1273", "ChAdOx1 nCoV-19"], "paddingInner": 0.7765, "paddingOuter": 0.207, "align": 0.53}, "axis": {"labels": true, "title": null, "grid": true, "labelFontSize": 22, "labelColor": "#000", "labelPadding": 12, "labelAngle": 0, "labelLimit": 300}}, "xOffset": {"field": "id", "type": "nominal", "scale": {"paddingInner": 0, "paddingOuter": 0}}, "y": {"field": "cases", "type": "quantitative", "title": null}}},
        {"data": {"name": "w1_chad"}, "transform": [{"window": [{"op": "row_number", "as": "id"}]}], "mark": {"type": "point", "shape": "triangle-up", "filled": true, "size": 110, "opacity": 0.75, "color": "#00BA38", "strokeWidth": 0}, "encoding": {"x": {"datum": "ChAdOx1 nCoV-19", "type": "nominal", "scale": {"domain": ["BNT162b2", "mRNA-1273", "ChAdOx1 nCoV-19"], "paddingInner": 0.7765, "paddingOuter": 0.207, "align": 0.53}, "axis": {"labels": true, "title": null, "grid": true, "labelFontSize": 22, "labelColor": "#000", "labelPadding": 12, "labelAngle": 0, "labelLimit": 300}}, "xOffset": {"field": "id", "type": "nominal", "scale": {"paddingInner": 0, "paddingOuter": 0}}, "y": {"field": "cases", "type": "quantitative", "title": null}}},
        {
          "data": {"name": "boxes"},
          "transform": [{"filter": {"field": "week", "equal": "Week 1"}}],
          "encoding": {"x": {"field": "vaccine", "type": "nominal", "scale": {"domain": ["BNT162b2", "mRNA-1273", "ChAdOx1 nCoV-19"], "paddingInner": 0.7765, "paddingOuter": 0.207, "align": 0.53}, "axis": {"labels": true, "title": null, "grid": true, "labelFontSize": 22, "labelColor": "#000", "labelPadding": 12, "labelAngle": 0, "labelLimit": 300}}},
          "layer": [
            {"mark": {"type": "bar", "width": 81, "fill": "transparent", "stroke": "#2b2b2b", "strokeWidth": 1.2}, "encoding": {"y": {"field": "q1", "type": "quantitative", "title": null}, "y2": {"field": "q3"}}},
            {"mark": {"type": "rule", "color": "#2b2b2b", "strokeWidth": 1.2}, "encoding": {"y": {"field": "lower", "type": "quantitative", "title": null}, "y2": {"field": "q1"}}},
            {"mark": {"type": "rule", "color": "#2b2b2b", "strokeWidth": 1.2}, "encoding": {"y": {"field": "q3", "type": "quantitative", "title": null}, "y2": {"field": "upper"}}},
            {"mark": {"type": "tick", "orient": "horizontal", "size": 24, "thickness": 1.2, "color": "#2b2b2b", "opacity": 1}, "encoding": {"y": {"field": "lower", "type": "quantitative", "title": null}}},
            {"mark": {"type": "tick", "orient": "horizontal", "size": 24, "thickness": 1.2, "color": "#2b2b2b", "opacity": 1}, "encoding": {"y": {"field": "upper", "type": "quantitative", "title": null}}},
            {"mark": {"type": "tick", "orient": "horizontal", "size": 81, "thickness": 1.2, "color": "#2b2b2b", "opacity": 1}, "encoding": {"y": {"field": "median", "type": "quantitative", "title": null}}}
          ]
        },
        {"data": {"values": [{}]}, "mark": {"type": "text", "text": "Week 1", "align": "left", "baseline": "middle", "dx": 84, "fontSize": 22, "color": "#000"}, "encoding": {"x": {"datum": "ChAdOx1 nCoV-19", "type": "nominal", "scale": {"domain": ["BNT162b2", "mRNA-1273", "ChAdOx1 nCoV-19"], "paddingInner": 0.7765, "paddingOuter": 0.207, "align": 0.53}, "axis": {"labels": true, "title": null, "grid": true, "labelFontSize": 22, "labelColor": "#000", "labelPadding": 12, "labelAngle": 0, "labelLimit": 300}}, "y": {"datum": 30, "type": "quantitative", "title": null}}}
      ]
    }
  ],
  "config": {
    "view": {"stroke": null},
    "font": "Liberation Sans",
    "axisX": {"domain": false, "ticks": false, "gridColor": "#e6e6e6", "gridWidth": 1, "bandPosition": 0.5, "labelFont": "Liberation Sans"},
    "axisY": {"offset": 10, "ticks": false, "labelPadding": 10, "labelColor": "#999999", "labelFontSize": 16, "domainColor": "#c8c8c8", "grid": false, "labelOverlap": false, "tickCount": 12, "labelFont": "Liberation Sans"},
    "title": {"font": "Liberation Sans", "fontWeight": "normal", "color": "#000"}
  }
}
